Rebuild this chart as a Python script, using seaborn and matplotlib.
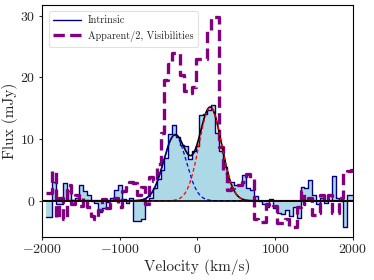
import numpy as np
import pandas as pd
import matplotlib
matplotlib.use("Agg")
import matplotlib.pyplot as plt
import seaborn as sns

# Channel centres (km/s)
velocity = [
    -1950, -1900, -1850, -1800, -1750, -1700, -1650, -1600, -1550, -1500,
    -1450, -1400, -1350, -1300, -1250, -1200, -1150, -1100, -1050, -1000,
    -950, -900, -850, -800, -750, -700, -650, -600, -550, -500,
    -450, -400, -350, -300, -250, -200, -150, -100, -50, 0,
    50, 100, 150, 200, 250, 300, 350, 400, 450, 500,
    550, 600, 650, 700, 750, 800, 850, 900, 950, 1000,
    1050, 1100, 1150, 1200, 1250, 1300, 1350, 1400, 1450, 1500,
    1550, 1600, 1650, 1700, 1750, 1800, 1850, 1900, 1950, 2000,
]

# Intrinsic spectrum (mJy)
flux_intrinsic = [
    -2.6, -2.6, 3.0, -0.5, -0.5, 2.8, 1.5, 0.2, 0.5, 2.6,
    1.5, 1.0, 0.0, -0.3, -1.8, -1.2, -0.2, 0.5, 1.8, 2.6,
    0.3, -0.3, 0.5, -3.2, -3.3, -3.0, 0.0, 0.5, 2.0, 3.5,
    5.0, 7.0, 10.8, 12.2, 10.3, 9.0, 8.8, 6.8, 8.0, 8.8,
    13.9, 14.0, 14.7, 15.5, 11.0, 8.0, 5.5, 3.0, 3.0, 2.5,
    2.5, 4.2, 2.0, 1.8, 0.7, 0.0, -0.5, -1.0, 0.3, -1.2,
    -2.0, -2.2, -1.5, -2.5, -1.0, -2.8, 2.3, 2.0, 3.4, 1.0,
    -0.5, 0.5, -0.3, 0.2, 4.0, 0.5, 0.0, -4.2, 1.0, 1.0,
]

# Apparent spectrum / 2 from visibilities (mJy)
flux_apparent_half = [
    1.3, 1.3, 4.8, -2.8, 0.5, -3.0, 2.5, -0.5, 1.0, -0.8,
    0.5, -1.0, -2.5, -3.0, -1.5, 0.3, -1.2, -0.2, 0.5, -1.0,
    1.5, 2.5, 3.0, 2.8, 1.0, 2.2, -0.5, 3.8, 3.2, 6.0,
    11.0, 19.5, 22.2, 24.0, 24.0, 20.3, 17.7, 17.5, 18.5, 23.0,
    23.0, 23.0, 27.6, 29.8, 29.8, 8.7, 4.5, 1.7, 2.0, 2.5,
    2.5, 3.0, 4.4, 3.5, -3.0, -3.5, -3.5, -0.5, -1.0, -0.8,
    -3.6, -3.6, -3.0, -4.2, -4.2, -1.0, 1.5, -0.5, 0.5, -2.3,
    -2.0, 1.0, 0.0, 1.0, -2.0, -2.0, 0.5, 4.5, 4.8, 5.0,
]

# Gaussian fit components: amplitude (mJy), centre (km/s), sigma (km/s)
comp_amplitude = [10.6, 15.1]
comp_centre = [-290, 165]
comp_sigma = [145, 145]
comp_colors = ["blue", "red"]

sns.set_style("ticks")
plt.rcParams["font.family"] = "serif"
plt.rcParams["font.serif"] = ["cmr10", "DejaVu Serif"]
plt.rcParams["mathtext.fontset"] = "cm"
plt.rcParams["axes.formatter.use_mathtext"] = True
plt.rcParams["axes.unicode_minus"] = True

df = pd.DataFrame({"v": velocity, "intr": flux_intrinsic, "app": flux_apparent_half})

fig = plt.figure(figsize=(3.74, 2.80), dpi=100)
ax = fig.add_axes([0.112, 0.154, 0.832, 0.828])

ax.fill_between(df["v"], 0, df["intr"], step="mid", color="lightblue", lw=0, zorder=1)
sns.lineplot(data=df, x="v", y="intr", drawstyle="steps-mid", color="navy", lw=1.0,
             ax=ax, label="Intrinsic", zorder=2, estimator=None, sort=False)
sns.lineplot(data=df, x="v", y="app", drawstyle="steps-mid", color="purple", lw=2.4,
             ls=(0, (3.4, 1.6)), ax=ax, label="Apparent/2, Visibilities", zorder=3,
             estimator=None, sort=False)

vgrid = np.linspace(-2000, 2000, 801)
comps = []
for a, c, s in zip(comp_amplitude, comp_centre, comp_sigma):
    comps.append(a * np.exp(-0.5 * ((vgrid - c) / s) ** 2))
total = comps[0] + comps[1]
ax.plot(vgrid, total, color="black", lw=1.2, zorder=5)
for comp, col in zip(comps, comp_colors):
    ax.plot(vgrid, comp, color=col, lw=0.9, ls=(0, (3, 2)), zorder=6)

ax.axhline(0, color="black", lw=1.2, zorder=7)

ax.set_xlim(-2000, 2000)
ax.set_ylim(-5.85, 31.7)
ax.set_xticks([-2000, -1000, 0, 1000, 2000])
ax.set_yticks([0, 10, 20, 30])
ax.set_xlabel("Velocity (km/s)", fontsize=11, labelpad=2)
ax.set_ylabel("Flux (mJy)", fontsize=11, labelpad=2)
ax.tick_params(direction="out", length=2.5, width=0.8, labelsize=10, pad=2)
for sp in ax.spines.values():
    sp.set_visible(True)
    sp.set_color("black")
    sp.set_linewidth(0.8)

leg = ax.legend(loc="upper left", fontsize=7.3, frameon=True, fancybox=True,
                handlelength=2.8, handletextpad=0.6, borderpad=0.45, labelspacing=0.55,
                bbox_to_anchor=(0.005, 0.995))
leg.get_frame().set_edgecolor("0.85")
leg.get_frame().set_linewidth(0.8)
leg.set_zorder(10)

fig.savefig("out.png", dpi=100)
